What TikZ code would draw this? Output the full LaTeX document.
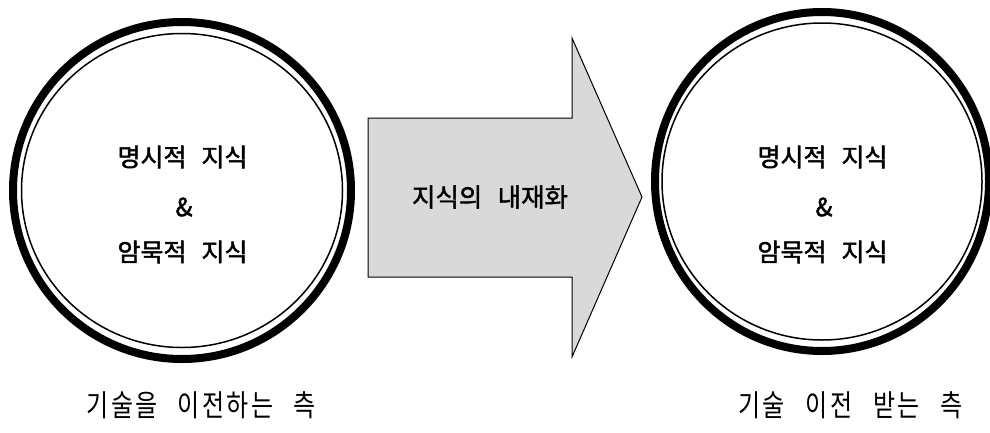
\documentclass[tikz,border=0pt]{standalone}
\usepackage{fontspec}
\setmainfont{Noto Sans CJK KR}
\newfontfamily\heavyfont[FakeBold=1.8]{Noto Sans CJK KR}
\newfontfamily\labfont[FakeStretch=0.8]{Noto Sans CJK KR}
\newcommand\gk{\kern0.08em}
\tikzset{
  thickring/.style={draw=black, line width=8pt},
  thinring/.style={draw=black, line width=1.5pt},
  ctext/.style={font=\heavyfont\fontsize{25pt}{29pt}\selectfont, align=center, inner sep=0pt},
  arrowbody/.style={draw=black, line width=1pt, fill=black!15, line join=miter},
  atext/.style={font=\heavyfont\fontsize{25.5pt}{29pt}\selectfont, inner sep=0pt},
  ltext/.style={font=\labfont\fontsize{30pt}{34pt}\selectfont, inner sep=0pt},
}
\begin{document}
\begin{tikzpicture}[x=1pt, y=-1pt]
\useasboundingbox[fill=white] (0,0) rectangle (990,432);
% left circle
\coordinate (lc) at (182,190.5);
\draw[thickring] (lc) ellipse [x radius=169, y radius=168.5];
\draw[thinring] (lc) ellipse [x radius=160.5, y radius=157];
\node[ctext] (l1) at (182.5,157) {명시적\hspace{0.6em}지식};
\node[ctext] (l2) at (184,207) {\&};
\node[ctext] (l3) at (182.5,252) {암묵적\hspace{0.6em}지식};
% right circle
\coordinate (rc) at (822,181.5);
\draw[thickring] (rc) ellipse [x radius=167, y radius=169.5];
\draw[thinring] (rc) ellipse [x radius=160, y radius=158.5];
\node[ctext] (r1) at (822.5,157) {명시적\hspace{0.6em}지식};
\node[ctext] (r2) at (824,207) {\&};
\node[ctext] (r3) at (822.5,252) {암묵적\hspace{0.6em}지식};
% arrow
\draw[arrowbody] (368,118) -- (572,118) -- (572,38) -- (642,197) -- (572,357) -- (572,277) -- (368,277) -- cycle;
\node[atext] (a) at (490,197) {지식의\hspace{0.6em}내재화};
% labels
\node[ltext] (bl) at (201,405) {기\gk 술\gk 을\hspace{0.66em}이\gk 전\gk 하\gk 는\hspace{0.66em}측};
\node[ltext] (br) at (850.5,405) {기\gk 술\hspace{0.7em}이\gk 전\hspace{0.7em}받\gk 는\hspace{0.7em}측};
\end{tikzpicture}
\end{document}
